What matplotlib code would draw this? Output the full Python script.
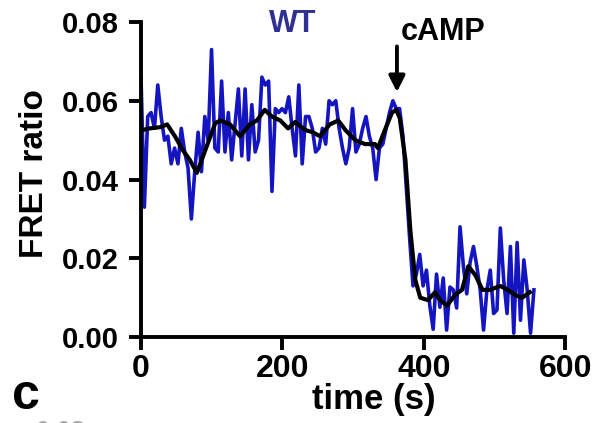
import numpy as np
import matplotlib.pyplot as plt

plt.rcParams['font.family'] = ['Liberation Sans', 'DejaVu Sans']
plt.rcParams['font.weight'] = 'bold'

# raw FRET ratio (blue), sampled every ~4.75 s
fret = [0.066, 0.033, 0.056, 0.057, 0.053, 0.064, 0.056, 0.050, 0.051, 0.044,
        0.048, 0.044, 0.053, 0.047, 0.043, 0.030, 0.042, 0.052, 0.042, 0.056,
        0.050, 0.073, 0.048, 0.047, 0.065, 0.047, 0.057, 0.045, 0.054, 0.063,
        0.046, 0.063, 0.045, 0.059, 0.047, 0.050, 0.066, 0.064, 0.065, 0.037,
        0.058, 0.057, 0.058, 0.057, 0.061, 0.053, 0.046, 0.064, 0.044, 0.056,
        0.056, 0.053, 0.047, 0.048, 0.053, 0.049, 0.060, 0.059, 0.060, 0.053,
        0.048, 0.044, 0.048, 0.058, 0.047, 0.049, 0.053, 0.056, 0.051, 0.048,
        0.040, 0.048, 0.049, 0.053, 0.057, 0.060, 0.058, 0.058, 0.051, 0.038,
        0.025, 0.013, 0.016, 0.021, 0.013, 0.017, 0.008, 0.002, 0.016, 0.0076,
        0.015, 0.0018, 0.0127, 0.012, 0.0074, 0.028, 0.018, 0.011, 0.019, 0.023,
        0.018, 0.012, 0.0018, 0.012, 0.017, 0.006, 0.0069, 0.0277, 0.0145, 0.006,
        0.023, 0.001, 0.024, 0.0043, 0.0196, 0.012, 0.001, 0.012]
dt = 4.75

# smoothed trace (black)
smooth_t = [0, 13, 27, 37, 48, 59, 69, 79, 91, 105, 112, 126, 140, 154, 164,
            175, 185, 197, 208, 218, 232, 243, 253, 267, 279, 289, 303, 317,
            331, 335, 345, 355, 361, 366, 374, 381, 388, 395, 406, 416, 423,
            433, 444, 454, 463, 473, 483, 494, 508, 519, 529, 539, 550]
smooth_v = [0.0525, 0.053, 0.0533, 0.054, 0.051, 0.0475, 0.045, 0.0417, 0.0475,
            0.0543, 0.055, 0.054, 0.051, 0.054, 0.055, 0.0577, 0.056, 0.055,
            0.053, 0.0546, 0.0526, 0.052, 0.051, 0.054, 0.055, 0.0526, 0.050,
            0.049, 0.049, 0.048, 0.0526, 0.057, 0.0577, 0.0556, 0.045, 0.027,
            0.0145, 0.010, 0.0094, 0.0114, 0.0094, 0.008, 0.0107, 0.012, 0.018,
            0.0157, 0.012, 0.012, 0.013, 0.012, 0.0107, 0.010, 0.0114]

t = np.arange(len(fret)) * dt

fig = plt.figure(figsize=(6, 4.23), dpi=100)
ax = fig.add_axes([0.235, 0.203, 0.707, 0.745])

ax.plot(t, fret, color='#1414c0', lw=2.6, zorder=2)
ax.plot(smooth_t, smooth_v, color='black', lw=3, zorder=3)

ax.set_xlim(0, 600)
ax.set_ylim(0, 0.08)
ax.set_xticks([0, 200, 400, 600])
ax.set_yticks([0, 0.02, 0.04, 0.06, 0.08])
ax.set_yticklabels(['0.00', '0.02', '0.04', '0.06', '0.08'])
for s in ['top', 'right']:
    ax.spines[s].set_visible(False)
for s in ['left', 'bottom']:
    ax.spines[s].set_linewidth(2.8)
ax.tick_params(width=2.8, length=9)
ax.tick_params(axis='y', labelsize=21, pad=7)
ax.tick_params(axis='x', labelsize=23, pad=3)
ax.set_xlabel('time (s)', fontsize=25, fontweight='bold')
ax.xaxis.set_label_coords(0.55, -0.145)
ax.set_ylabel('FRET ratio', fontsize=24, fontweight='bold')
ax.yaxis.set_label_coords(-0.215, 0.52)

ax.text(215, 0.0795, 'WT', color='#2e3192', fontsize=22, fontweight='bold',
        ha='center', va='center', clip_on=False)
ax.text(427, 0.0775, 'cAMP', color='black', fontsize=22, fontweight='bold',
        ha='center', va='center', clip_on=False)
ax.annotate('', xy=(362, 0.0615), xytext=(362, 0.0745),
            arrowprops=dict(arrowstyle='-|>', color='black', lw=2.8,
                            mutation_scale=24))

fig.text(0.043, 0.065, 'c', fontsize=36, fontweight='bold', ha='center', va='center')
# top of the next panel's tick label, cut by the bottom edge
fig.text(0.06, -0.022, '0.08', fontsize=18, fontweight='bold', color='#aaaaaa',
         va='center')

fig.savefig('out.png', dpi=100)
